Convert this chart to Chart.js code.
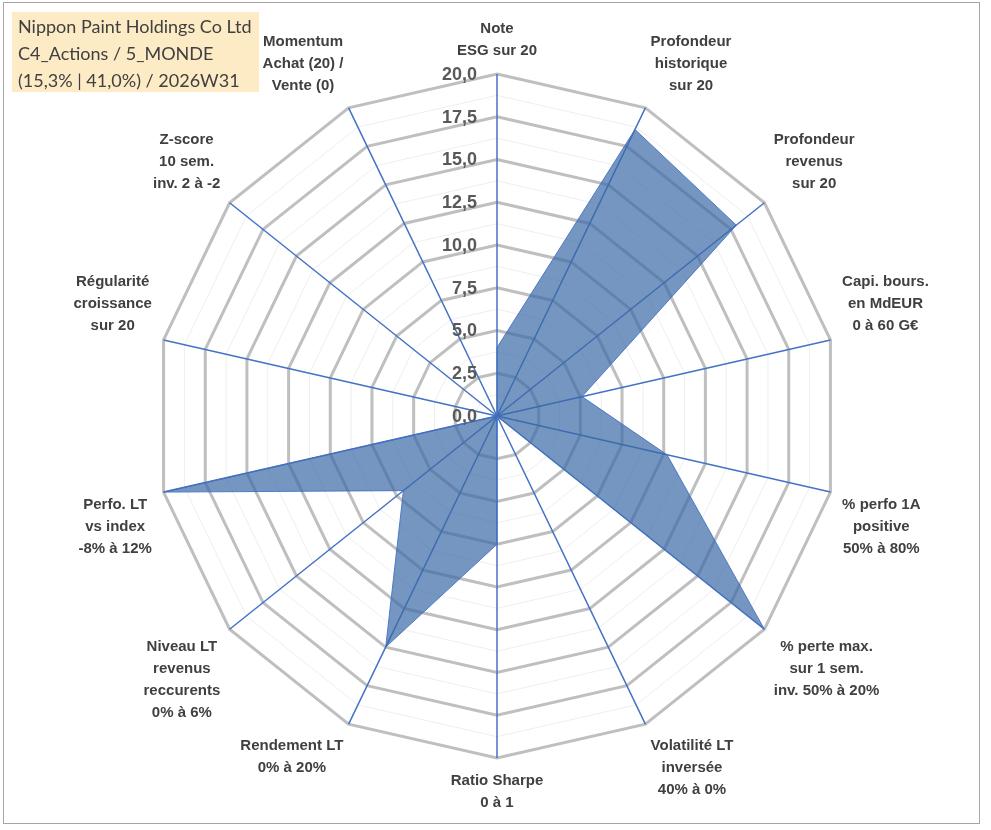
<!DOCTYPE html>
<html>
<head>
<meta charset="utf-8">
<script src="https://cdn.jsdelivr.net/npm/chart.js@4/dist/chart.umd.min.js"></script>
<style>
  html, body { margin: 0; padding: 0; background: #fff; }
  #wrap { position: relative; width: 991px; height: 830px; overflow: hidden; }
  #frame { position: absolute; left: 3px; top: 2px; width: 977px; height: 822px; border: 1px solid #a6a6a6; box-sizing: border-box; pointer-events: none; }
  #chart { position: absolute; left: 0; top: 0; }
  #title {
    position: absolute; left: 12px; top: 12px; width: 247px; height: 80px;
    background: rgba(252, 222, 160, 0.6);
    font-family: Lato, "Open Sans", sans-serif; font-size: 18px; line-height: 27px;
    color: #404040; padding: 1px 0 0 6px; box-sizing: border-box; white-space: nowrap;
  }
</style>
</head>
<body>
<div id="wrap">
  <canvas id="chart" width="991" height="830"></canvas>
  <div id="title">Nippon Paint Holdings Co Ltd<br>C4_Actions / 5_MONDE<br>(15,3% | 41,0%) / 2026W31</div>
  <div id="frame"></div>
</div>
<script>
const categories = [
    ['Note', 'ESG sur 20'],
    ['Profondeur', 'historique', 'sur 20'],
    ['Profondeur', 'revenus', 'sur 20'],
    ['Capi. bours.', 'en MdEUR', '0 à 60 G€'],
    ['% perfo 1A', 'positive', '50% à 80%'],
    ['% perte max.', 'sur 1 sem.', 'inv. 50% à 20%'],
    ['Volatilité LT', 'inversée', '40% à 0%'],
    ['Ratio Sharpe', '0 à 1'],
    ['Rendement LT', '0% à 20%'],
    ['Niveau LT', 'revenus', 'reccurents', '0% à 6%'],
    ['Perfo. LT', 'vs index', '-8% à 12%'],
    ['Régularité', 'croissance', 'sur 20'],
    ['Z-score', '10 sem.', 'inv. 2 à -2'],
    ['Momentum', 'Achat (20) /', 'Vente (0)'],
];
const scores = [4, 18.6, 17.9, 5.1, 10.2, 20, 0, 7.5, 15, 7, 20, 0, 0, 0];
const tickValues = [0, 2.5, 5, 7.5, 10, 12.5, 15, 17.5, 20];
const tickLabels = ['0,0', '2,5', '5,0', '7,5', '10,0', '12,5', '15,0', '17,5', '20,0'];

const labelFont = 'bold 15px "Liberation Sans", Arial, sans-serif';
const labelLine = 22;

// tick labels sit left of the vertical axis, point labels are centred per line
const overlay = {
    id: 'overlay',
    afterDatasetsDraw(chart) {
        const scale = chart.scales.r;
        const ctx = chart.ctx;
        ctx.save();
        ctx.font = 'bold 18px "Liberation Sans", Arial, sans-serif';
        ctx.fillStyle = '#595959';
        ctx.textAlign = 'right';
        ctx.textBaseline = 'middle';
        tickValues.forEach((v, i) => {
            const y = scale.yCenter - scale.getDistanceFromCenterForValue(v);
            ctx.fillText(tickLabels[i], scale.xCenter - 20, y + 1);
        });

        ctx.font = labelFont;
        ctx.fillStyle = '#404040';
        ctx.textAlign = 'center';
        ctx.textBaseline = 'top';
        categories.forEach((lines, i) => {
            const p = scale.getPointLabelPosition(i);
            const cx = (p.left + p.right) / 2;
            const top = (p.top + p.bottom) / 2 - lines.length * labelLine / 2;
            lines.forEach((t, k) => ctx.fillText(t, cx, top + k * labelLine + 3));
        });
        ctx.restore();
    },
};

new Chart(document.getElementById('chart'), {
    type: 'radar',
    data: {
        labels: categories,
        datasets: [{
            data: scores,
            backgroundColor: 'rgba(58, 105, 165, 0.7)',
            borderColor: 'rgba(68, 114, 196, 0.9)',
            borderWidth: 1,
            pointRadius: 0,
            fill: true,
        }],
    },
    options: {
        responsive: false,
        animation: false,
        layout: { padding: { top: 18, bottom: 16, left: 4, right: 0 } },
        plugins: { legend: { display: false }, tooltip: { enabled: false } },
        elements: { line: { tension: 0 } },
        scales: {
            r: {
                min: 0,
                max: 20,
                ticks: { stepSize: 1.25, display: false },
                grid: {
                    circular: false,
                    color: (c) => (c.tick && c.tick.value % 2.5 === 0 ? '#bfbfbf' : '#eeeeee'),
                    lineWidth: (c) => (c.tick && c.tick.value % 2.5 === 0 ? 3 : 1),
                },
                angleLines: { color: '#4472c4', lineWidth: 1.5 },
                pointLabels: {
                    color: 'rgba(0,0,0,0)',
                    padding: 12,
                    font: { family: '"Liberation Sans", Arial, sans-serif', size: 15, weight: 'bold', lineHeight: labelLine / 15 },
                },
            },
        },
    },
    plugins: [overlay],
});
</script>
</body>
</html>
